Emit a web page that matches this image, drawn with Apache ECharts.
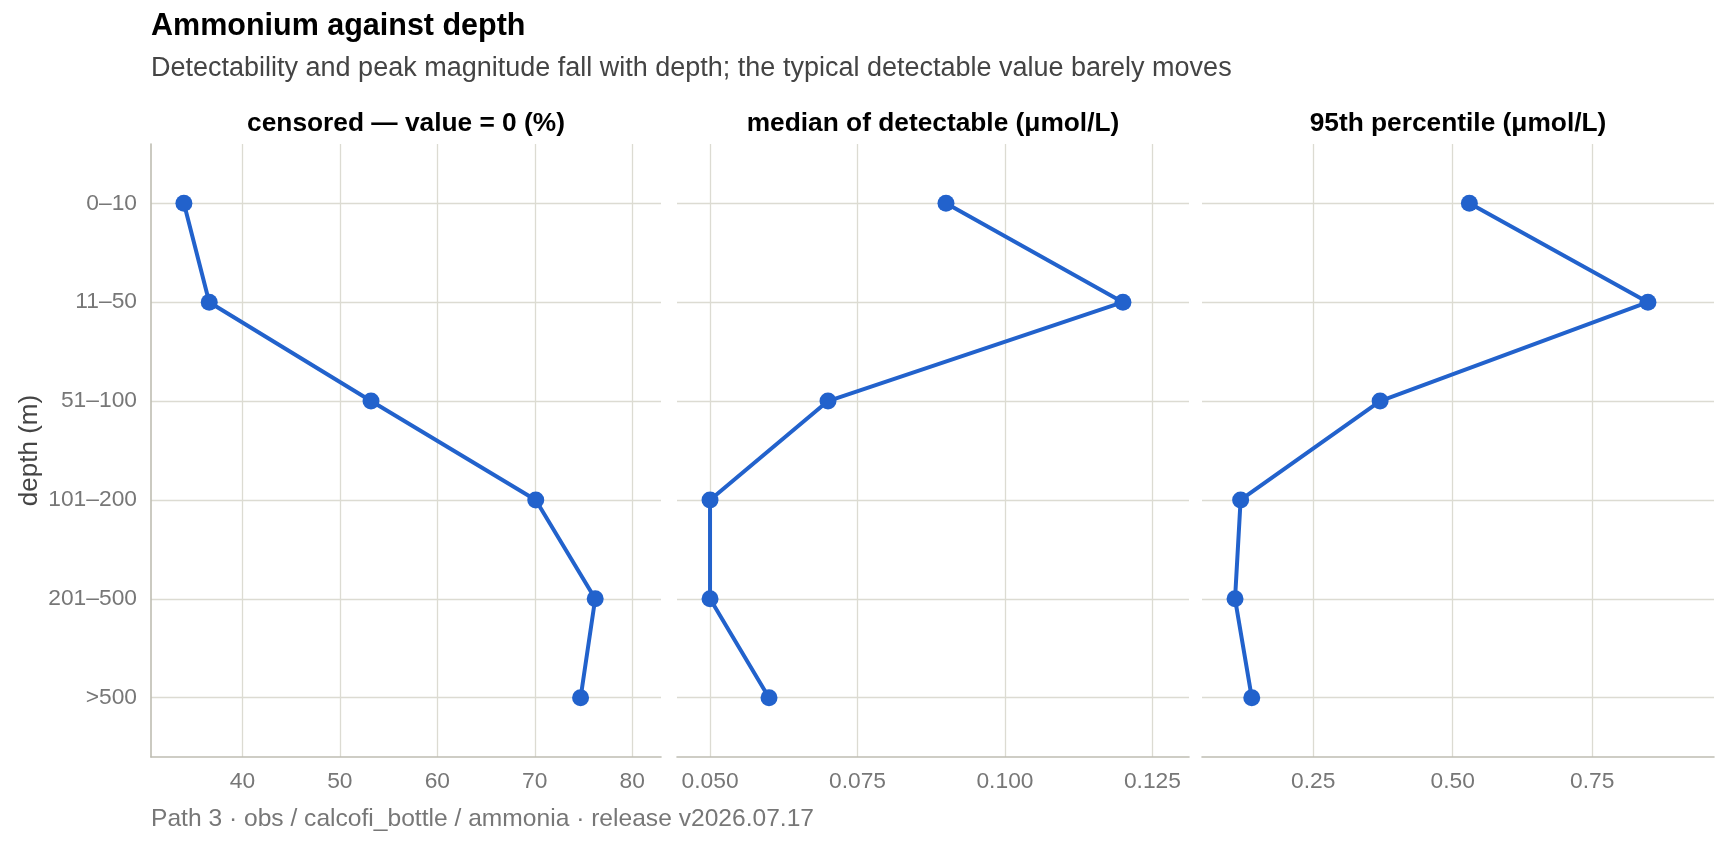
<!doctype html>
<html>
  <head>
    <meta charset="utf-8">
    <title>Ammonium against depth</title>
    <script src="https://cdn.jsdelivr.net/npm/echarts@6/dist/echarts.min.js"></script>
    <style>
      html, body { margin: 0; padding: 0; background: #fff; }
      #chart { width: 1728px; height: 844px; }
    </style>
  </head>
  <body>
    <div id="chart"></div>

    <script type="text/javascript">
      // depth bins, top to bottom
      var depthBins = ['0–10', '11–50', '51–100', '101–200', '201–500', '>500'];

      // one array per facet
      var censoredPct = [34.0, 36.6, 53.2, 70.1, 76.2, 74.7];
      var medianDetect = [0.09, 0.12, 0.07, 0.05, 0.05, 0.06];
      var p95 = [0.53, 0.85, 0.37, 0.12, 0.11, 0.14];

      // tick labels
      var ticksCensored = [40, 50, 60, 70, 80];
      var ticksMedian = [0.050, 0.075, 0.100, 0.125];
      var ticksP95 = [0.25, 0.50, 0.75];

      var panelTitles = ['censored — value = 0 (%)', 'median of detectable (μmol/L)', '95th percentile (μmol/L)'];

      var FONT = 'Liberation Sans, Arial, Helvetica, sans-serif';
      var BLUE = '#2262CC';
      var GRID = '#DCDBD2';
      var AXIS = '#BEBDB2';

      // panel boxes (px)
      var panels = [
        { left: 151, width: 510 },
        { left: 677, width: 512 },
        { left: 1202, width: 512 }
      ];
      var panelTop = 144, panelHeight = 613;

      // padding around the data, a bit more on the right like the original
      function limits(vals) {
        var lo = Math.min.apply(null, vals), hi = Math.max.apply(null, vals);
        var r = hi - lo;
        return [lo - 0.08 * r, hi + 0.16 * r];
      }

      function pairs(vals) {
        return vals.map(function (v, i) { return [v, i]; });
      }

      var chart = echarts.init(document.getElementById('chart'), null, { renderer: 'canvas' });

      var datasets = [censoredPct, medianDetect, p95];
      var tickSets = [ticksCensored, ticksMedian, ticksP95];
      var decimals = [0, 3, 2];

      var grids = [], xAxes = [], yAxes = [], series = [], titles = [];

      titles.push({
        text: 'Ammonium against depth',
        left: 151, top: 11, padding: 0,
        textStyle: { fontFamily: FONT, fontSize: 30.5, fontWeight: 'bold', color: '#000' }
      });
      titles.push({
        text: 'Detectability and peak magnitude fall with depth; the typical detectable value barely moves',
        left: 151, top: 55, padding: 0,
        textStyle: { fontFamily: FONT, fontSize: 27, fontWeight: 'normal', color: '#444' }
      });
      titles.push({
        text: 'Path 3 · obs / calcofi_bottle / ammonia · release v2026.07.17',
        left: 151, top: 807, padding: 0,
        textStyle: { fontFamily: FONT, fontSize: 24.6, fontWeight: 'normal', color: '#777' }
      });

      panels.forEach(function (p, k) {
        grids.push({ left: p.left, top: panelTop, width: p.width, height: panelHeight, containLabel: false });

        titles.push({
          text: panelTitles[k],
          left: p.left + p.width / 2, top: 111, padding: 0,
          textAlign: 'center',
          textStyle: { fontFamily: FONT, fontSize: 26.3, fontWeight: 'bold', color: '#000' }
        });

        var lim = limits(datasets[k]);
        var dec = decimals[k];
        xAxes.push({
          type: 'value',
          gridIndex: k,
          min: lim[0],
          max: lim[1],
          axisLine: { show: true, onZero: false, lineStyle: { color: AXIS, width: 1.6 } },
          axisTick: { show: false, customValues: tickSets[k] },
          axisLabel: {
            customValues: tickSets[k],
            margin: 13,
            color: '#777',
            fontFamily: FONT,
            fontSize: 22.8,
            formatter: function (v) { return Number(v).toFixed(dec); }
          },
          splitLine: { show: true, lineStyle: { color: GRID, width: 1.3 } }
        });

        yAxes.push({
          type: 'value',
          gridIndex: k,
          inverse: true,
          min: -0.6,
          max: 5.6,
          name: k === 0 ? 'depth (m)' : '',
          nameLocation: 'middle',
          nameRotate: 90,
          nameGap: 108,
          nameTextStyle: { fontFamily: FONT, fontSize: 26, color: '#444' },
          axisLine: { show: k === 0, onZero: false, lineStyle: { color: AXIS, width: 1.6 } },
          axisTick: { show: false, customValues: [0, 1, 2, 3, 4, 5] },
          axisLabel: {
            show: k === 0,
            customValues: [0, 1, 2, 3, 4, 5],
            margin: 14,
            color: '#777',
            fontFamily: FONT,
            fontSize: 22.8,
            formatter: function (v) { return depthBins[Math.round(v)]; }
          },
          splitLine: { show: true, lineStyle: { color: GRID, width: 1.3 } }
        });

        series.push({
          type: 'line',
          xAxisIndex: k,
          yAxisIndex: k,
          data: pairs(datasets[k]),
          symbol: 'circle',
          symbolSize: 17,
          showAllSymbol: true,
          itemStyle: { color: BLUE },
          lineStyle: { color: BLUE, width: 4 },
          animation: false,
          z: 3
        });
      });

      var option = {
        backgroundColor: '#ffffff',
        animation: false,
        title: titles,
        grid: grids,
        xAxis: xAxes,
        yAxis: yAxes,
        series: series
      };

      chart.setOption(option);
    </script>
  </body>
</html>
